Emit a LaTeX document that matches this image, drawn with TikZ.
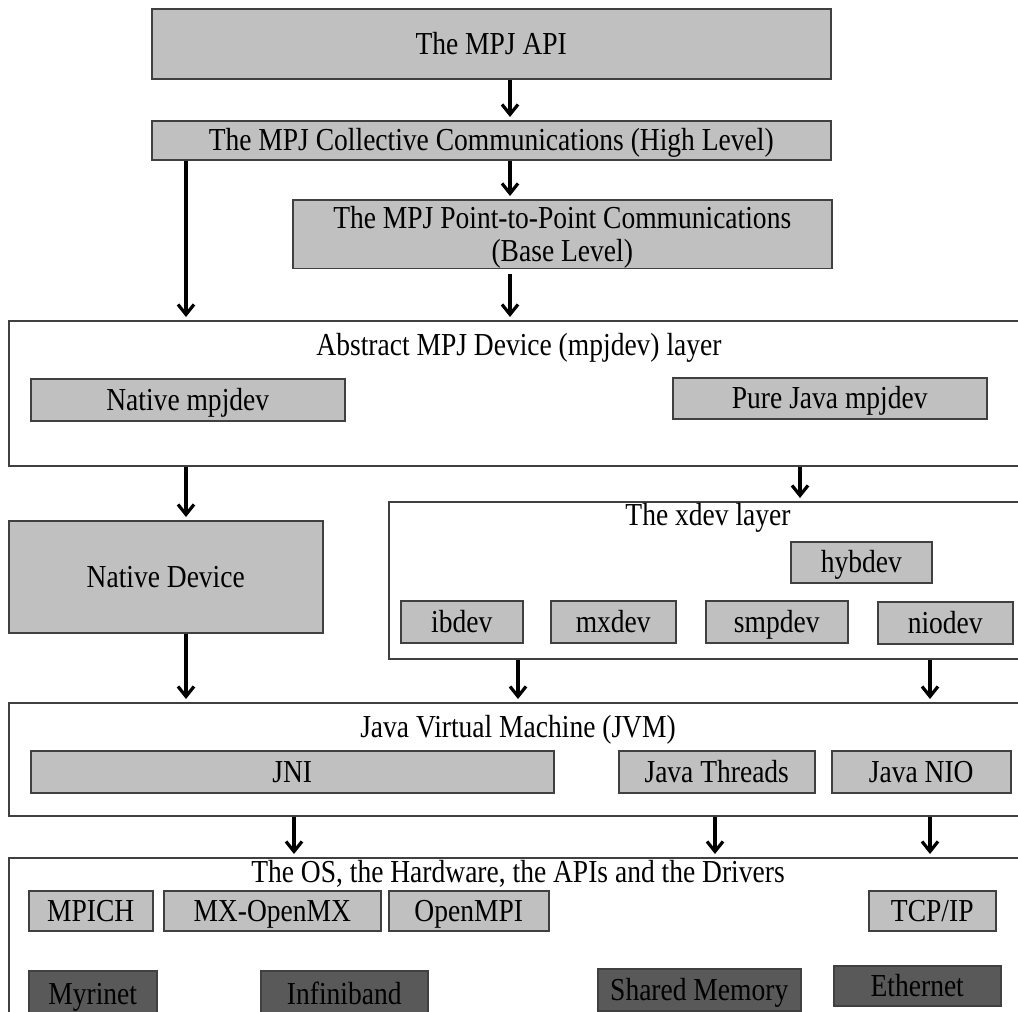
\documentclass[tikz,border=0pt]{standalone}
\usepackage{fontspec}
\setmainfont{Liberation Serif}[FakeStretch=0.86]
\usetikzlibrary{arrows.meta}
\definecolor{lg}{HTML}{C0C0C0}
\definecolor{dg}{HTML}{595959}
\definecolor{bd}{HTML}{404040}
\begin{document}
\begin{tikzpicture}[x=1pt,y=-1pt,
  lbl/.style={font=\fontsize{32}{34}\selectfont, inner sep=0pt, align=center, text height=24pt, text depth=3pt},
  gbox/.style={lbl, draw=bd, line width=1.5pt, fill=lg, anchor=north west},
  dbox/.style={gbox, fill=dg},
  layer/.style={draw=bd, line width=1.5pt, fill=white, anchor=north west, inner sep=0pt},
  arr/.style={-{Straight Barb[length=10pt,width=16pt,line width=3.2pt]}, line width=3.2pt, shorten >=3pt}]
\useasboundingbox (0,0) rectangle (1018,1012);
\fill[white] (0,0) rectangle (1018,1012);
% top boxes
\node[gbox, minimum width=679, minimum height=70] (api) at (151,8) {The MPJ API};
\node[gbox, minimum width=679, minimum height=39] (coll) at (151,120) {The MPJ Collective Communications (High Level)};
\node[gbox, text height=, text depth=, minimum width=539, minimum height=66] (p2p) at (292,199) {\rule{0pt}{29pt}The MPJ Point-to-Point Communications\\[-1pt](Base Level)};
% abstract layer
\node[layer, minimum width=1030, minimum height=145] (abs) at (8,320) {};
\node[lbl] (absl) at (519,345) {Abstract MPJ Device (mpjdev) layer};
\node[gbox, minimum width=314, minimum height=42] (nmpj) at (30,378) {Native mpjdev};
\node[gbox, minimum width=314, minimum height=41] (pjmpj) at (672,377) {Pure Java mpjdev};
% native device
\node[gbox, minimum width=314, minimum height=112] (nd) at (8,520) {Native Device};
% xdev layer
\node[layer, minimum width=650, minimum height=157] (xdev) at (388,501) {};
\node[lbl] (xdevl) at (708,515) {The xdev layer};
\node[gbox, minimum width=141, minimum height=41] (hyb) at (790,541) {hybdev};
\node[gbox, minimum width=122, minimum height=42] (ib) at (400,600) {ibdev};
\node[gbox, minimum width=125, minimum height=42] (mx) at (550,600) {mxdev};
\node[gbox, minimum width=142, minimum height=42] (smp) at (705,600) {smpdev};
\node[gbox, minimum width=135, minimum height=42] (nio) at (877,601) {niodev};
% JVM
\node[layer, minimum width=1030, minimum height=113] (jvm) at (8,702) {};
\node[lbl] (jvml) at (518,727) {Java Virtual Machine (JVM)};
\node[gbox, minimum width=523, minimum height=42] (jni) at (30,750) {JNI};
\node[gbox, minimum width=196, minimum height=42] (jt) at (618,750) {Java Threads};
\node[gbox, minimum width=179, minimum height=42] (jnio) at (831,750) {Java NIO};
% OS
\node[layer, minimum width=1030, minimum height=180] (os) at (8,857) {};
\node[lbl] (osl) at (518,872) {The OS, the Hardware, the APIs and the Drivers};
\node[gbox, minimum width=124, minimum height=40] (mpich) at (28,890) {MPICH};
\node[gbox, minimum width=217, minimum height=40] (omx) at (163,890) {MX-OpenMX};
\node[gbox, minimum width=160, minimum height=40] (ompi) at (388,890) {OpenMPI};
\node[gbox, minimum width=127, minimum height=40] (tcp) at (868,890) {TCP/IP};
\node[dbox, minimum width=128, minimum height=46] (myr) at (28,970) {Myrinet};
\node[dbox, minimum width=167, minimum height=46] (inf) at (260,970) {Infiniband};
\node[dbox, minimum width=203, minimum height=42] (shm) at (597,968) {Shared Memory};
\node[dbox, minimum width=167, minimum height=40] (eth) at (833,965) {Ethernet};
% arrow x positions
\coordinate (xa) at (510,0);
\coordinate (xb) at (186,0);
\coordinate (xc) at (800,0);
\coordinate (xd) at (518,0);
\coordinate (xe) at (930,0);
\coordinate (xf) at (294,0);
\coordinate (xg) at (715,0);
% arrows
\draw[arr] (api.south -| xa) -- (coll.north -| xa);
\draw[arr] (coll.south -| xa) -- (p2p.north -| xa);
\draw[arr] (coll.south -| xb) -- (abs.north -| xb);
\draw[arr] ([yshift=-5pt]p2p.south -| xa) -- (abs.north -| xa);
\draw[arr] (abs.south -| xb) -- (nd.north -| xb);
\draw[arr] (abs.south -| xc) -- (xdev.north -| xc);
\draw[arr] (nd.south -| xb) -- (jvm.north -| xb);
\draw[arr] (xdev.south -| xd) -- (jvm.north -| xd);
\draw[arr] (xdev.south -| xe) -- (jvm.north -| xe);
\draw[arr] (jvm.south -| xf) -- (os.north -| xf);
\draw[arr] (jvm.south -| xg) -- (os.north -| xg);
\draw[arr] (jvm.south -| xe) -- (os.north -| xe);
\end{tikzpicture}
\end{document}
